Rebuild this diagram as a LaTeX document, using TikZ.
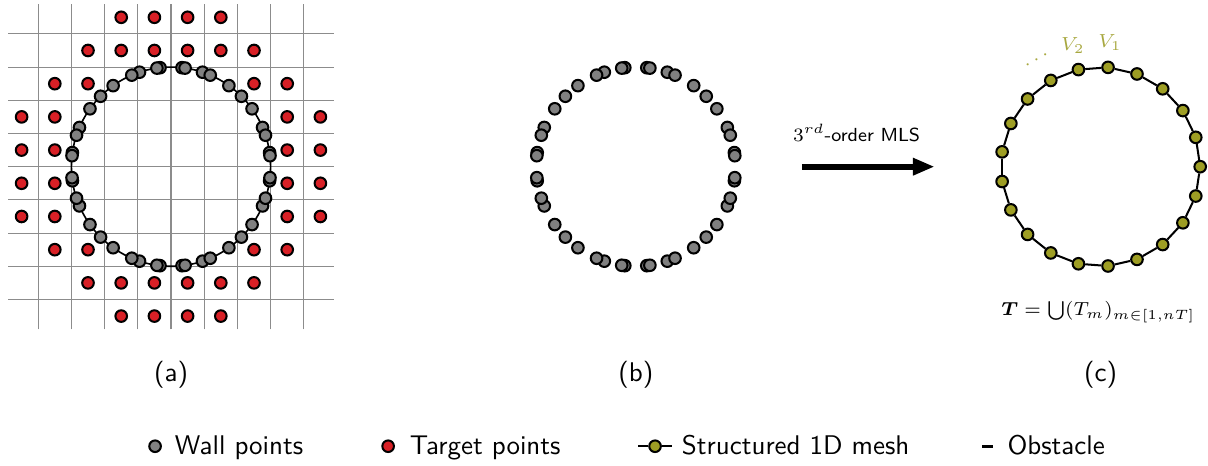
\documentclass[tikz,border=0pt]{standalone}
\usepackage{amsmath,amsfonts}
\usepackage{tikz}
\usepackage{bm}
\usetikzlibrary{arrows.meta}
\definecolor{wallgray}{RGB}{128,128,128}
\definecolor{targetred}{RGB}{216,32,38}
\definecolor{mesholive}{RGB}{158,158,36}
\definecolor{labelolive}{RGB}{168,168,64}
\definecolor{gridgray}{RGB}{140,140,140}

\begin{document}
\begin{tikzpicture}[x=0.432cm,y=0.432cm,
  wallpt/.style={circle,draw=black,fill=wallgray,line width=0.75pt,inner sep=0pt,minimum size=4.3pt},
  targetpt/.style={circle,draw=black,fill=targetred,line width=0.75pt,inner sep=0pt,minimum size=4.3pt},
  meshpt/.style={circle,draw=black,fill=mesholive,line width=0.75pt,inner sep=0pt,minimum size=4.3pt},
  gridline/.style={draw=gridgray,line width=0.4pt},
  legtext/.style={font=\sffamily,anchor=base west,inner sep=0pt},
  vlabel/.style={font=\scriptsize,text=labelolive,inner sep=0pt}]
\useasboundingbox (-5.151,-9.015) rectangle (31.235,5.021);

% (a) grid, obstacle and the two point sets
\foreach \k in {-4,...,4}
{
\draw[gridline] (-4.9,\k) -- (4.9,\k);
\draw[gridline] (\k,-4.9) -- (\k,4.9);
}
\draw[line width=0.6pt] (0,0) circle (3);
\foreach \sx/\sy/\q in {1/1/a,-1/1/b,-1/-1/c,1/-1/d}
\foreach \x/\y [count=\n] in {0.5/4.5,1.5/4.5,0.5/3.5,1.5/3.5,2.5/3.5,2.5/2.5,3.5/2.5,3.5/1.5,4.5/1.5,3.5/0.5,4.5/0.5}
{
\pgfmathsetmacro{\ang}{atan2(\sy*\y,\sx*\x)}
\node[targetpt] (tgt-\q\n) at (\sx*\x,\sy*\y) {};
\node[wallpt] (wall-\q\n) at (\ang:3) {};
% (b) the same wall points alone
\node[wallpt] (wallb-\q\n) at ([shift={(14,0)}]\ang:3) {};
}

% MLS step
\coordinate (arrowstart) at (19,0);
\coordinate (arrowend) at (23,0);
\draw[line width=2.2pt,-{Triangle[length=8pt,width=6pt]}] (arrowstart) -- (arrowend);
\node[font=\scriptsize\sffamily,anchor=base] (mlslabel) at (20.65,0.75) {$3^{rd}$-order MLS};

% (c) structured mesh
\foreach \k [evaluate=\k as \ang using \k*360/21] in {0,...,20}
\node[meshpt] (mesh\k) at ([shift={(28,0)}]\ang:3) {};
\foreach \k [evaluate=\k as \nxt using {int(mod(\k+1,21))}] in {0,...,20}
\draw[line width=0.75pt] (mesh\k) -- (mesh\nxt);
\node[vlabel] (vone) at ([shift={(28,0)}]85.71:3.75) {$V_1$};
\node[vlabel] (vtwo) at ([shift={(28,0)}]102.86:3.75) {$V_2$};
\node[vlabel,rotate=30] (vdots) at ([shift={(28,0)}]120:3.75) {$\cdots$};
\node[font=\scriptsize] (union) at (27.93,-4.38) {$\bm{T}=\bigcup(T_m)_{m\in[1,nT]}$};

\node[font=\sffamily] (lbla) at (0,-6.27) {(a)};
\node[font=\sffamily] (lblb) at (14,-6.27) {(b)};
\node[font=\sffamily] (lblc) at (28,-6.27) {(c)};

% legend
\node[wallpt] (wallkey) at (-0.48,-8.42) {};
\node[legtext] (walltext) at (0.1,-8.68) {Wall points};
\node[targetpt] (targetkey) at (6.54,-8.42) {};
\node[legtext] (targettext) at (7.18,-8.68) {Target points};
\coordinate (meshkeyl) at (14.07,-8.42);
\coordinate (meshkeyr) at (15.09,-8.42);
\node[meshpt] (meshkey) at (14.58,-8.42) {};
\draw[line width=0.75pt] (meshkeyl) -- (meshkey) -- (meshkeyr);
\node[legtext] (meshtext) at (15.37,-8.68) {Structured 1D mesh};
\coordinate (obstkeyl) at (24.43,-8.42);
\coordinate (obstkeyr) at (24.76,-8.42);
\draw[line width=1.2pt] (obstkeyl) -- (obstkeyr);
\node[legtext] (obsttext) at (25.18,-8.68) {Obstacle};

\end{tikzpicture}
\end{document}
